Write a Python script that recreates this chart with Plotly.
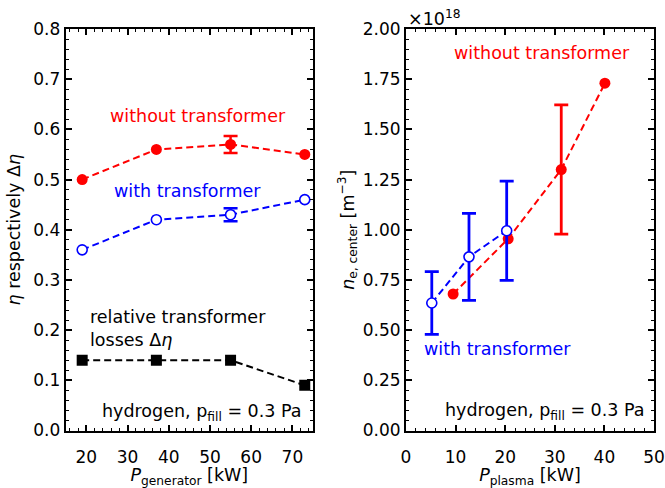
import plotly.graph_objects as go

# ---------------- data ----------------
# left panel: efficiency vs generator power
p_gen = [19, 37, 55, 73]
eta_without = [0.50, 0.56, 0.57, 0.55]
eta_without_err = [None, None, 0.017, None]
eta_with = [0.36, 0.42, 0.43, 0.46]
eta_with_err = [None, None, 0.013, None]
delta_eta = [0.14, 0.14, 0.14, 0.09]

# right panel: central electron density (units of 1e18 m^-3) vs plasma power
p_plasma_without = [9.5, 20.6, 31.3, 40.1]
ne_without = [0.68, 0.955, 1.30, 1.73]
ne_without_err = [None, None, 0.322, None]
p_plasma_with = [5.2, 12.7, 20.3]
ne_with = [0.635, 0.865, 0.995]
ne_with_err = [0.156, 0.217, 0.247]

RED = "#ff0000"
BLUE = "#0000ff"
FONT = "DejaVu Sans"
W, H = 665, 488

def px(x):
    return x / W

def py(y):
    return 1 - y / H

fig = go.Figure()
dash = "7px,4px"


def add_series(x, y, err, color, filled, symbol, xa, ya, thick):
    if filled:
        marker = dict(color=color, size=11, symbol=symbol)
    else:
        marker = dict(color="white", size=10, symbol=symbol,
                      line=dict(color=color, width=1.6))
    # error bars (only where an error is given), drawn below the markers
    if err is not None:
        idx = [i for i, e in enumerate(err) if e is not None]
        if idx:
            fig.add_trace(go.Scatter(
                x=[x[i] for i in idx], y=[y[i] for i in idx], mode="markers",
                marker=dict(size=0.1, color=color, opacity=0),
                error_y=dict(type="data", array=[err[i] for i in idx], visible=True,
                             color=color, thickness=thick, width=7),
                xaxis=xa, yaxis=ya, showlegend=False, hoverinfo="skip"))
    fig.add_trace(go.Scatter(
        x=x, y=y, mode="lines+markers",
        line=dict(color=color, width=2, dash=dash),
        marker=marker, xaxis=xa, yaxis=ya, showlegend=False))


add_series(p_gen, eta_without, eta_without_err, RED, True, "circle", "x", "y", 2.5)
add_series(p_gen, eta_with, eta_with_err, BLUE, False, "circle", "x", "y", 2.5)
add_series(p_gen, delta_eta, None, "black", True, "square", "x", "y", 2.5)
add_series(p_plasma_without, ne_without, ne_without_err, RED, True, "circle", "x2", "y2", 2.8)
add_series(p_plasma_with, ne_with, ne_with_err, BLUE, False, "circle", "x2", "y2", 2.8)

axis_common = dict(
    showline=True, linecolor="black", linewidth=2, mirror="allticks",
    ticks="inside", ticklen=6, tickwidth=1.6, tickcolor="black",
    showgrid=False, zeroline=False, automargin=False,
    tickfont=dict(family=FONT, size=17, color="black"),
    title_font=dict(family=FONT, size=17.5, color="black"),
)

def minor(d):
    return dict(ticks="inside", ticklen=3, tickwidth=1.2, tickcolor="black",
                dtick=d, showgrid=False)

fig.update_layout(
    width=W, height=H,
    margin=dict(l=0, r=0, t=0, b=0, autoexpand=False),
    paper_bgcolor="white", plot_bgcolor="white",
    font=dict(family=FONT, size=17, color="black"),
    xaxis=dict(domain=[px(65.7), px(313)], range=[15, 75], dtick=10,
               anchor="y", minor=minor(2), ticklabelstandoff=10,
               title=dict(text="<i>P</i><sub>generator</sub> [kW]", standoff=10),
               **axis_common),
    yaxis=dict(domain=[py(430.5), py(29)], range=[0, 0.8], dtick=0.1,
               tickformat=".1f", anchor="x", minor=minor(0.02),
               title=dict(text="<i>η</i> respectively Δ<i>η</i>", standoff=8),
               **axis_common),
    xaxis2=dict(domain=[px(406), px(654)], range=[0, 50], dtick=10,
                anchor="y2", minor=minor(2), ticklabelstandoff=10,
                title=dict(text="<i>P</i><sub>plasma</sub> [kW]", standoff=10),
                **axis_common),
    yaxis2=dict(domain=[py(430.5), py(29)], range=[0, 2.0], dtick=0.25,
                tickformat=".2f", anchor="x2", minor=minor(0.05),
                title=dict(text="<i>n</i><sub>e, center</sub> [m<sup>−3</sup>]", standoff=4),
                **axis_common),
)

ann = [
    dict(text="without transformer", x=px(197.5), y=py(116), color=RED, xanchor="center"),
    dict(text="with transformer", x=px(187), y=py(191), color=BLUE, xanchor="center"),
    dict(text="relative transformer<br>losses Δ<i>η</i>", x=px(88), y=py(328), color="black", xanchor="left", align="left"),
    dict(text="hydrogen, p<sub>fill</sub> = 0.3 Pa", x=px(304), y=py(412), color="black", xanchor="right"),
    dict(text="without transformer", x=px(541.5), y=py(53), color=RED, xanchor="center"),
    dict(text="with transformer", x=px(497.5), y=py(349), color=BLUE, xanchor="center"),
    dict(text="hydrogen, p<sub>fill</sub> = 0.3 Pa", x=px(647), y=py(411), color="black", xanchor="right"),
    dict(text="×10<sup>18</sup>", x=px(406), y=py(18), color="black", xanchor="left"),
]
for a in ann:
    fig.add_annotation(text=a["text"], x=a["x"], y=a["y"], xref="paper", yref="paper",
                       xanchor=a["xanchor"], yanchor="middle", showarrow=False,
                       align=a.get("align", "center"),
                       font=dict(family=FONT, size=17.5, color=a["color"]))

fig.write_html("out.html")
